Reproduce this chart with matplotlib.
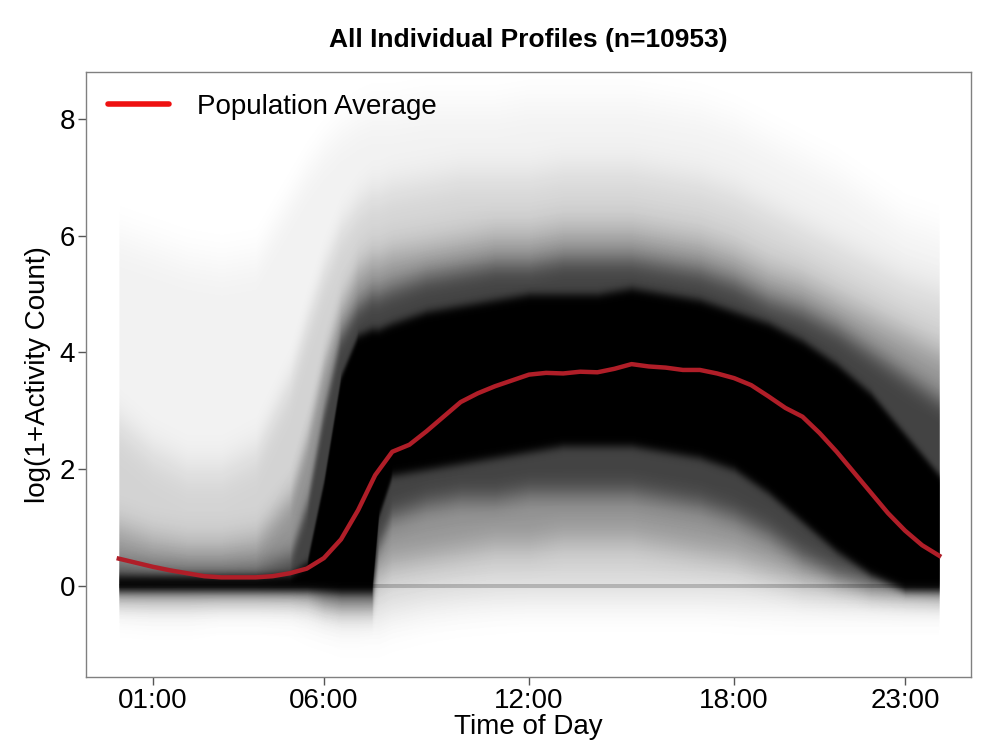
import numpy as np
import matplotlib.pyplot as plt
from matplotlib.lines import Line2D

plt.rcParams['font.family'] = ['Liberation Sans', 'DejaVu Sans']

# population average, every half hour (hours 0..24)
avg_hours = np.arange(0, 24.01, 0.5)
avg_values = [0.47, 0.40, 0.33, 0.27, 0.22, 0.17, 0.15, 0.15, 0.15, 0.17,
              0.22, 0.30, 0.48, 0.80, 1.30, 1.90, 2.30, 2.42, 2.65, 2.90,
              3.15, 3.30, 3.42, 3.52, 3.62, 3.65, 3.64, 3.67, 3.66, 3.72,
              3.80, 3.76, 3.74, 3.70, 3.70, 3.64, 3.56, 3.44, 3.25, 3.05,
              2.90, 2.62, 2.30, 1.95, 1.60, 1.25, 0.95, 0.70, 0.52]

# envelopes of the individual-profile cloud
band_hours = [0, 1, 2, 3, 4, 5, 5.5, 6, 6.5, 7, 7.4, 7.6, 8, 9, 10, 11, 12,
              13, 14, 15, 16, 17, 18, 19, 20, 21, 22, 23, 24]
faint_hi = [6.0, 5.8, 5.6, 5.5, 5.6, 6.6, 7.1, 7.5, 7.8, 8.0, 8.1, 8.1, 8.1, 8.2,
            8.2, 8.2, 8.3, 8.3, 8.3, 8.3, 8.2, 8.1, 7.9, 7.6, 7.3, 7.0, 6.6, 6.2, 6.0]
faint_lo = [-0.35, -0.4, -0.4, -0.3, -0.3, -0.35, -0.5, -0.6, -0.7, -0.7, -0.7, -0.7,
            -0.6, -0.45, -0.35, -0.3, -0.25, -0.25, -0.25, -0.25, -0.25, -0.25, -0.3,
            -0.3, -0.3, -0.3, -0.3, -0.3, -0.3]
light_hi = [2.8, 2.3, 2.0, 2.0, 2.3, 3.5, 4.5, 5.4, 6.1, 6.5, 6.7, 6.7, 6.8, 6.9,
            7.0, 7.0, 7.0, 7.1, 7.1, 7.1, 7.0, 6.9, 6.7, 6.4, 6.1, 5.8, 5.5, 5.2, 5.0]
light_lo = [-0.2, -0.25, -0.25, -0.2, -0.2, -0.25, -0.3, -0.4, -0.45, -0.45, -0.4,
            -0.4, -0.3, -0.2, -0.15, -0.1, -0.1, -0.1, -0.1, -0.1, -0.1, -0.1,
            -0.1, -0.15, -0.2, -0.2, -0.2, -0.2, -0.2]
mid_hi = [1.0, 0.8, 0.7, 0.7, 0.8, 1.5, 2.5, 3.8, 4.8, 5.4, 5.6, 5.6, 5.7, 5.8,
          5.9, 6.0, 6.0, 6.1, 6.1, 6.1, 6.0, 5.9, 5.7, 5.4, 5.2, 4.9, 4.6, 4.3, 4.0]
mid_lo = [-0.1, -0.1, -0.1, -0.1, -0.1, -0.1, -0.15, -0.25, -0.3, -0.3, -0.3, 0.2,
          0.4, 0.5, 0.6, 0.7, 0.7, 0.8, 0.8, 0.8, 0.7, 0.6, 0.5, 0.3, 0.1, 0.0,
          -0.05, -0.1, -0.1]
dark_hi = [0.35, 0.3, 0.28, 0.28, 0.3, 0.5, 1.4, 3.0, 4.3, 4.8, 5.0, 5.0, 5.1, 5.3,
           5.4, 5.5, 5.5, 5.6, 5.6, 5.6, 5.5, 5.4, 5.2, 4.9, 4.7, 4.4, 4.0, 3.6, 3.2]
dark_lo = [-0.1, -0.1, -0.1, -0.1, -0.1, -0.1, -0.1, -0.2, -0.25, -0.25, -0.25, 0.7,
           1.2, 1.4, 1.5, 1.5, 1.6, 1.6, 1.6, 1.6, 1.5, 1.4, 1.2, 0.9, 0.5, 0.2,
           0.0, -0.05, -0.1]
core_hi = [0.18, 0.18, 0.18, 0.18, 0.18, 0.2, 0.4, 1.8, 3.6, 4.3, 4.4, 4.4, 4.5,
           4.7, 4.8, 4.9, 5.0, 5.0, 5.0, 5.1, 5.0, 4.9, 4.7, 4.5, 4.2, 3.8, 3.3,
           2.6, 1.9]
core_lo = [-0.07, -0.07, -0.07, -0.07, -0.07, -0.07, -0.07, -0.08, -0.1, -0.1, -0.1,
           1.2, 1.9, 2.0, 2.1, 2.2, 2.3, 2.4, 2.4, 2.4, 2.3, 2.2, 2.0, 1.6, 1.1,
           0.6, 0.2, -0.07, -0.07]
# thin line of zero-activity profiles running through the whole day
zero_hi = 0.03
zero_lo = -0.03

tick_hours = [1, 6, 12, 18, 23]
tick_labels = ['01:00', '06:00', '12:00', '18:00', '23:00']
n_profiles = 10953


def vertical_blur(sigma):
    """agg filter: gaussian blur in y only, so the day edges stay sharp"""
    def _filter(im, dpi):
        s = sigma * dpi / 100.0
        pad = int(3 * s) + 1
        src = np.pad(im, [(pad, pad), (pad, pad), (0, 0)])
        k = np.exp(-0.5 * (np.arange(-pad, pad + 1) / s) ** 2)
        k /= k.sum()
        out = np.zeros_like(src)
        h = src.shape[0]
        for i, w in enumerate(k):
            sh = i - pad
            lo, hi = max(0, sh), min(h, h + sh)
            out[lo - sh:hi - sh] += w * src[lo:hi]
        out[..., :3] = 0.0  # everything here is black, avoid light halos
        return out, -pad, -pad
    return _filter


fig = plt.figure(figsize=(10, 7.5), dpi=100)
ax = fig.add_axes([0.086, 0.097, 0.885, 0.807])

layers = [(faint_lo, faint_hi, 0.06, 16), (light_lo, light_hi, 0.13, 14),
          (mid_lo, mid_hi, 0.3, 11), (dark_lo, dark_hi, 0.55, 8),
          (core_lo, core_hi, 1.0, 3)]
for lo, hi, a, sig in layers:
    poly = ax.fill_between(band_hours, lo, hi, color='black', alpha=a, linewidth=0)
    poly.set_agg_filter(vertical_blur(sig))
    poly.set_rasterized(True)
ax.fill_between([band_hours[0], band_hours[-1]], zero_lo, zero_hi,
                color='black', alpha=0.2, linewidth=0)

ax.plot(avg_hours, avg_values, color='#B01E28', linewidth=3.2, zorder=5)

handle = Line2D([0], [0], color='#EE1111', linewidth=4, solid_capstyle='round')
ax.legend([handle], ['Population Average'], loc='upper left', frameon=False,
          fontsize=20, handlelength=2.2, handletextpad=1.0,
          borderaxespad=0.4, bbox_to_anchor=(0.0, 1.0))

ax.set_xlim(-0.96, 24.93)
ax.set_ylim(-1.56, 8.8)
ax.set_xticks(tick_hours)
ax.set_xticklabels(tick_labels)
ax.set_yticks([0, 2, 4, 6, 8])
ax.tick_params(labelsize=20, direction='out', length=6, width=1,
               color='#555555', pad=2)
ax.set_xlabel('Time of Day', fontsize=20, labelpad=0)
ax.set_ylabel('log(1+Activity Count)', fontsize=20, labelpad=6)
ax.set_title(f'All Individual Profiles (n={n_profiles})', fontsize=19,
             fontweight='bold', pad=18)
for s in ax.spines.values():
    s.set_color('#808080')
    s.set_linewidth(1)

fig.savefig('out.png', dpi=100)
